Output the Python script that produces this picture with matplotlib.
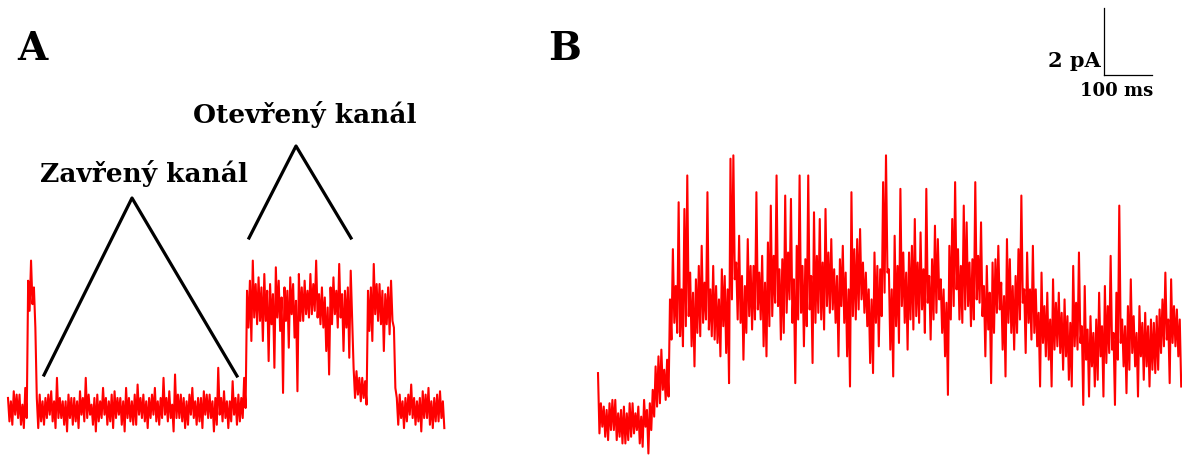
import numpy as np
import matplotlib
matplotlib.use("Agg")
import matplotlib.pyplot as plt

# each 6 ms bin of a trace holds one peak and one trough (pA)
dt = 6.0

# trace A: closed -> open -> closed (relative to closed level)
a_hi = [
    0.3, 0.2, 0.5, 0.4, 0.4, 0.1, 0.6, 3.8, 4.4, 3.6,
    0.3, 0.4, 0.2, 0.3, 0.4, 0.5, 0.2, 0.9, 0.3, 0.2,
    0.2, 0.4, 0.3, 0.3, 0.2, 0.5, 0.3, 0.9, 0.4, 0.1,
    0.3, 0.4, 0.2, 0.6, 0.3, 0.2, 0.4, 0.5, 0.3, 0.3,
    0.2, 0.6, 0.3, 0.2, 0.4, 0.7, 0.3, 0.4, 0.2, 0.3,
    0.4, 0.6, 0.2, 0.3, 0.9, 0.3, 0.5, 0.1, 1.0, 0.4,
    0.4, 0.3, 0.2, 0.4, 0.6, 0.2, 0.3, 0.3, 0.5, 0.4,
    0.4, 0.2, 0.3, 1.2, 0.3, 0.5, 0.2, 0.2, 0.8, 0.3,
    0.4, 0.3, 0.9, 3.5, 3.8, 4.4, 3.7, 3.9, 3.6, 4.0,
    3.5, 3.7, 3.4, 4.2, 3.8, 3.3, 3.6, 3.5, 3.9, 3.7,
    3.2, 4.0, 3.6, 3.8, 3.5, 4.0, 3.7, 4.4, 3.4, 3.6,
    3.3, 3.0, 3.6, 3.9, 3.5, 4.3, 3.4, 3.5, 3.6, 4.1,
    1.2, 1.1, 0.9, 0.9, 0.8, 3.5, 3.6, 4.3, 3.7, 3.7,
    3.5, 3.4, 3.6, 3.8, 2.4, 0.3, 0.4, 0.2, 0.3, 0.4,
    0.7, 0.3, 0.2, 0.3, 0.5, 0.4, 0.6, 0.2, 0.3, 0.4,
    0.5, 0.2,
]
a_lo = [
    -0.4, -0.5, -0.2, -0.3, -0.5, -0.6, -0.3, 2.9, 3.1, 2.4,
    -0.6, -0.4, -0.5, -0.3, -0.2, -0.4, -0.6, -0.3, -0.3, -0.5,
    -0.7, -0.3, -0.5, -0.4, -0.6, -0.2, -0.4, -0.3, -0.2, -0.5,
    -0.7, -0.4, -0.3, -0.2, -0.5, -0.4, -0.6, -0.3, -0.2, -0.5,
    -0.7, -0.3, -0.4, -0.5, -0.5, -0.2, -0.3, -0.4, -0.6, -0.3,
    -0.2, -0.4, -0.5, -0.3, -0.2, -0.4, -0.3, -0.7, -0.3, -0.3,
    -0.4, -0.6, -0.5, -0.2, -0.3, -0.5, -0.4, -0.6, -0.2, -0.3,
    -0.3, -0.7, -0.5, -0.2, -0.4, -0.3, -0.6, -0.4, -0.2, -0.5,
    -0.4, -0.3, 0.0, 2.4, 2.0, 2.7, 2.5, 2.6, 2.0, 2.6,
    1.4, 2.5, 1.2, 2.7, 2.3, 0.45, 2.6, 1.8, 2.8, 2.1,
    0.5, 2.6, 2.6, 2.8, 2.7, 2.8, 2.9, 2.7, 2.5, 2.4,
    1.7, 1.0, 2.5, 2.8, 2.4, 2.7, 1.7, 2.4, 1.5, 2.6,
    0.3, 0.4, 0.2, 0.3, 0.1, 2.3, 2.0, 2.8, 2.6, 2.5,
    1.7, 2.5, 2.2, 2.6, 0.6, -0.5, -0.3, -0.6, -0.4, -0.2,
    -0.3, -0.5, -0.4, -0.7, -0.3, -0.3, -0.5, -0.6, -0.4, -0.4,
    -0.3, -0.6,
]

# trace B: activation of many channels
b_hi = [
    1.4, 0.5, 0.4, 0.3, 0.5, 0.6, 0.6, 0.2, 0.3, 0.4,
    0.2, 0.5, 0.5, 0.2, 0.4, 0.1, 0.6, 0.3, 0.5, 0.9,
    1.6, 1.9, 2.1, 1.5, 1.8, 3.6, 5.1, 4.0, 6.5, 3.9,
    6.3, 7.3, 4.4, 3.8, 4.2, 4.6, 5.2, 4.1, 6.8, 3.9,
    4.6, 4.0, 3.6, 4.5, 4.3, 3.9, 7.8, 7.9, 4.7, 5.5,
    4.3, 4.0, 5.4, 4.6, 4.6, 6.8, 4.4, 4.9, 4.1, 5.3,
    6.4, 4.9, 7.3, 4.5, 4.8, 6.7, 5.0, 6.6, 4.2, 5.2,
    7.3, 4.6, 4.8, 7.3, 4.3, 6.2, 4.9, 6.0, 4.7, 6.3,
    5.0, 5.4, 4.5, 4.3, 4.8, 5.2, 4.4, 3.9, 6.8, 5.1,
    5.4, 5.7, 4.7, 4.4, 3.9, 3.6, 5.0, 4.6, 4.5, 7.1,
    7.9, 4.5, 3.9, 5.5, 4.6, 6.9, 5.0, 4.4, 5.0, 5.2,
    6.0, 4.7, 5.6, 4.5, 6.9, 4.3, 4.8, 5.8, 5.4, 4.2,
    3.9, 3.5, 5.2, 6.0, 7.1, 5.1, 4.6, 6.4, 5.9, 4.7,
    4.8, 7.1, 4.9, 5.9, 4.0, 4.6, 3.8, 4.7, 4.8, 5.2,
    4.1, 3.7, 5.4, 4.8, 4.0, 4.3, 5.1, 6.7, 3.9, 5.0,
    3.9, 5.2, 3.9, 3.2, 4.4, 3.4, 3.8, 3.0, 4.2, 3.5,
    3.8, 3.2, 3.6, 3.1, 2.9, 4.6, 3.5, 5.0, 2.8, 4.0,
    2.7, 3.1, 2.6, 3.0, 3.8, 2.8, 4.0, 3.4, 4.9, 2.6,
    3.8, 6.4, 3.0, 2.8, 3.4, 4.2, 3.1, 2.6, 3.4, 2.9,
    3.2, 2.8, 3.0, 2.9, 3.1, 3.3, 3.6, 4.4, 3.0, 4.2,
    3.4, 3.3, 3.0,
]
b_lo = [
    -0.4, -0.2, -0.5, -0.6, -0.3, -0.3, -0.6, -0.5, -0.7, -0.7,
    -0.6, -0.5, -0.4, -0.3, -0.7, -0.8, -0.2, -1.0, -0.3, 0.1,
    0.4, 0.5, 0.9, 0.6, 0.7, 2.4, 2.9, 2.6, 2.5, 2.2,
    2.8, 3.1, 2.2, 1.6, 2.6, 2.5, 2.9, 3.0, 2.7, 2.5,
    2.4, 2.3, 1.9, 2.8, 2.0, 1.1, 3.6, 4.2, 3.0, 2.9,
    1.8, 2.6, 3.1, 2.7, 3.0, 3.3, 3.0, 2.2, 1.9, 2.8,
    3.1, 3.5, 3.4, 2.4, 2.6, 3.2, 3.6, 2.9, 1.1, 3.0,
    3.2, 2.2, 2.8, 3.3, 1.7, 2.9, 3.2, 3.0, 2.7, 3.4,
    3.2, 3.3, 2.9, 1.9, 3.4, 2.9, 1.9, 1.0, 3.1, 3.0,
    3.3, 3.6, 3.2, 2.8, 1.7, 1.4, 2.9, 2.2, 3.1, 3.8,
    4.4, 2.1, 1.3, 2.8, 2.3, 3.4, 2.9, 2.1, 3.0, 2.7,
    3.1, 2.9, 3.3, 2.6, 3.5, 2.4, 3.0, 3.2, 3.6, 2.6,
    1.9, 0.75, 3.0, 3.4, 3.9, 3.0, 2.9, 3.3, 3.4, 2.8,
    3.0, 3.6, 3.5, 3.1, 1.9, 2.7, 1.1, 2.6, 3.2, 3.3,
    2.1, 1.3, 2.9, 2.6, 2.1, 2.6, 3.0, 3.5, 2.0, 2.9,
    2.4, 2.6, 2.2, 1.0, 2.3, 1.9, 1.8, 1.0, 2.1, 2.2,
    2.0, 1.5, 1.9, 1.2, 1.0, 2.2, 2.1, 2.3, 0.45, 1.8,
    0.7, 1.6, 1.0, 1.2, 1.9, 0.7, 1.7, 2.0, 2.1, 0.45,
    1.8, 2.3, 1.6, 0.8, 1.5, 2.0, 1.6, 0.7, 1.9, 1.2,
    1.6, 1.0, 1.5, 1.4, 1.5, 2.0, 2.2, 2.4, 1.1, 2.3,
    2.2, 1.9, 1.0,
]

# scale bar
bar_pa = 2
bar_ms = 100


def zigzag(hi, lo):
    y = np.column_stack([hi, lo]).ravel()
    t = np.arange(len(y)) * dt / 2
    return t, y


fig = plt.figure(figsize=(11.82, 4.59), dpi=100)

# trace axes: x in ms, y in pA (0.48 px per ms, 33.5 px per pA)
ax = fig.add_axes([0, 0, 1, 1])
ax.set_xlim(0, 1182 / 0.48)
ax.set_ylim((408 - 459) / 33.5, 408 / 33.5)
ax.axis("off")

red = "#ff0000"
start_a = 8 / 0.48
start_b = 598 / 0.48
shift_b = -12 / 33.5  # B baseline sits a bit lower

t, y = zigzag(a_hi, a_lo)
ax.plot(t + start_a, y, color=red, lw=1.5)
t, y = zigzag(b_hi, b_lo)
ax.plot(t + start_b, y + shift_b, color=red, lw=1.5)

# scale bar
x0, y0 = 1104 / 0.48, (408 - 75) / 33.5
ax.plot([x0, x0], [y0, y0 + bar_pa], color="black", lw=0.9)
ax.plot([x0, x0 + bar_ms], [y0, y0], color="black", lw=0.9)

# annotation layer in pixels
ov = fig.add_axes([0, 0, 1, 1], facecolor="none")
ov.set_xlim(0, 1182)
ov.set_ylim(459, 0)
ov.axis("off")

font = dict(family="DejaVu Serif", weight="bold", color="black")
ov.text(17, 60, "A", fontsize=28, **font)
ov.text(548, 60, "B", fontsize=28, **font)
ov.text(40, 182, "Zavřený kanál", fontsize=19, **font)
ov.text(193, 123, "Otevřený kanál", fontsize=19, **font)
ov.text(1101, 67, f"{bar_pa} pA", fontsize=15, ha="right", **font)
ov.text(1080, 96, f"{bar_ms} ms", fontsize=13, **font)

ov.plot([44, 132, 237], [375, 198, 376], color="black", lw=2.3)
ov.plot([249, 296, 351], [238, 146, 238], color="black", lw=2.3)

fig.savefig("out.png", dpi=100)
